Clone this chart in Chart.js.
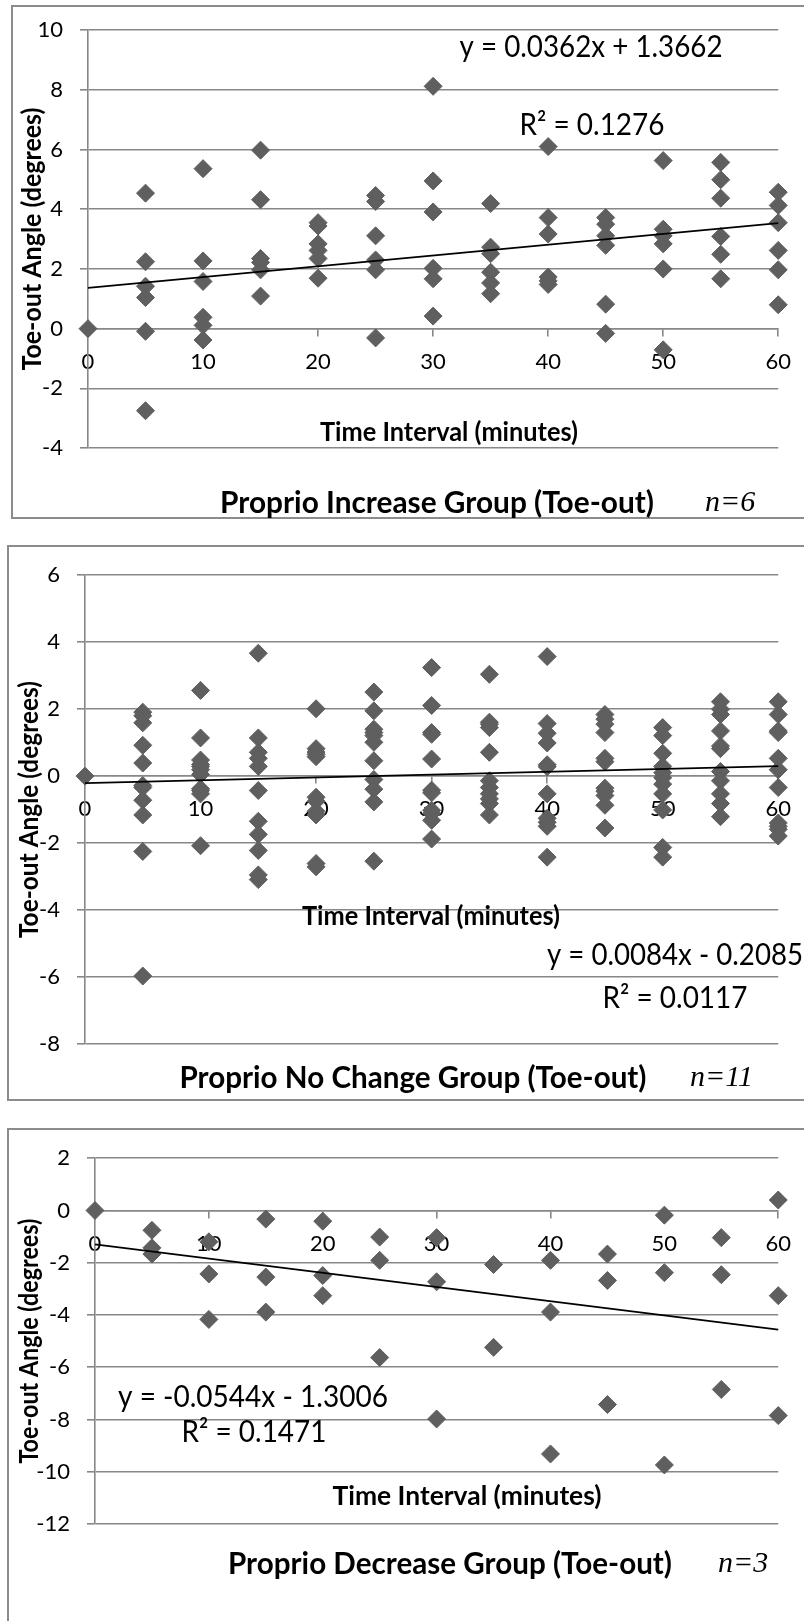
<!DOCTYPE html>
<html>
<head>
<meta charset="utf-8">
<script src="https://cdn.jsdelivr.net/npm/chart.js@4.4.1/dist/chart.umd.min.js"></script>
<style>
  html, body { margin: 0; padding: 0; background: #fff; width: 804px; height: 1621px; overflow: hidden; }
  .frame { position: absolute; border: 2px solid #8c8c8c; box-sizing: border-box; }
  canvas { position: absolute; left: 0; }
</style>
</head>
<body>
<div class="frame" style="left:11px; top:5px; width:830px; height:514px;"></div>
<div class="frame" style="left:7px; top:545px; width:830px; height:556px;"></div>
<div class="frame" style="left:7px; top:1128px; width:830px; height:520px;"></div>
<canvas id="chartIncrease" width="804" height="519" style="top:0px"></canvas>
<canvas id="chartNoChange" width="804" height="556" style="top:545px"></canvas>
<canvas id="chartDecrease" width="804" height="493" style="top:1128px"></canvas>

<script>
// Time points (minutes) shared by all three groups
const timeIntervals = [0, 5, 10, 15, 20, 25, 30, 35, 40, 45, 50, 55, 60];

// Toe-out angle (degrees) per subject, one list per time point
const increaseAngles = [
  [0],
  [4.54, 2.24, 1.42, 1.04, -0.09, -2.75],
  [5.36, 2.27, 1.58, 0.38, 0.11, -0.38],
  [5.98, 4.32, 2.35, 2.22, 1.97, 1.09],
  [3.55, 3.44, 2.84, 2.62, 2.35, 1.69],
  [4.46, 4.26, 3.11, 2.30, 1.97, -0.31],
  [8.12, 4.95, 3.91, 2.02, 1.67, 0.42],
  [4.19, 2.73, 2.51, 1.89, 1.53, 1.17],
  [6.10, 3.72, 3.17, 1.73, 1.60, 1.48],
  [3.72, 3.50, 3.11, 2.79, 0.82, -0.16],
  [5.63, 3.33, 3.11, 2.84, 2.00, -0.71],
  [5.57, 4.99, 4.37, 3.09, 2.49, 1.67],
  [4.57, 4.13, 3.55, 2.62, 1.97, 0.80]
];

const noChangeAngles = [
  [0],
  [1.91, 1.80, 1.59, 0.92, 0.39, -0.28, -0.34, -0.72, -1.16, -2.25, -5.97],
  [2.56, 1.14, 0.48, 0.35, 0.29, 0.19, 0.05, -0.38, -0.43, -0.53, -2.08],
  [3.67, 1.14, 0.71, 0.53, 0.29, -0.43, -1.35, -1.74, -2.22, -2.95, -3.09],
  [2.01, 0.82, 0.72, 0.65, 0.58, -0.63, -0.75, -1.05, -1.16, -2.61, -2.71],
  [2.51, 1.95, 1.40, 1.30, 1.21, 1.01, 0.46, -0.10, -0.39, -0.77, -2.54],
  [3.24, 2.11, 1.30, 1.25, 0.51, -0.42, -0.50, -1.02, -1.11, -1.32, -1.88],
  [3.04, 1.61, 1.55, 1.45, 0.71, -0.14, -0.34, -0.53, -0.68, -0.82, -1.16],
  [3.57, 1.57, 1.28, 0.99, 0.34, 0.28, -0.53, -1.26, -1.38, -1.50, -2.42],
  [1.84, 1.70, 1.55, 1.30, 0.53, 0.43, -0.36, -0.45, -0.58, -0.87, -1.55],
  [1.45, 1.21, 0.68, 0.29, 0.10, -0.05, -0.24, -0.53, -1.01, -2.13, -2.42],
  [2.22, 2.00, 1.84, 1.35, 0.90, 0.82, 0.14, -0.14, -0.53, -0.82, -1.21],
  [2.22, 1.84, 1.35, 1.30, 0.53, 0.19, -0.34, -1.40, -1.50, -1.59, -1.79]
];

const decreaseAngles = [
  [0],
  [-0.76, -1.43, -1.67],
  [-1.20, -2.43, -4.17],
  [-0.33, -2.55, -3.89],
  [-0.41, -2.49, -3.26],
  [-1.02, -1.91, -5.63],
  [-1.04, -2.73, -7.98],
  [-2.07, -5.24],
  [-1.91, -3.89, -9.32],
  [-1.67, -2.68, -7.43],
  [-0.18, -2.38, -9.74],
  [-1.04, -2.46, -6.85],
  [0.40, -3.26, -7.85]
];

// Linear trendlines (slope, intercept, R squared) for the three groups
const fitSlopes = [0.0362, 0.0084, -0.0544];
const fitIntercepts = [1.3662, -0.2085, -1.3006];
const fitRSquared = [0.1276, 0.0117, 0.1471];

// Axis ranges and labels
const yMins = [-4, -8, -12];
const yMaxs = [10, 6, 2];
const yTickStep = 2;
const xTickStep = 10;
const xAxisTitle = 'Time Interval (minutes)';
const yAxisTitle = 'Toe-out Angle (degrees)';
const groupTitles = ['Proprio Increase Group (Toe-out)', 'Proprio No Change Group (Toe-out)', 'Proprio Decrease Group (Toe-out)'];
const groupSizes = [6, 11, 3];

const MARKER = '#5f5f5f';
const GRID = '#878787';
const LATO = 'Lato, "Open Sans", sans-serif';

// Page layout for each panel (canvas-relative pixels)
const layouts = [
  { id: 'chartIncrease', h: 519, area: { l: 88, r: 782, t: 21, b: 448 },
    yTitle: { cx: 33, w: 263 }, xTitle: { cx: 449, cy: 433, w: 258 },
    title: { cx: 437, cy: 503, w: 434, nx: 705 },
    eq: { cx: 591, cy: 47, w: 263 }, r2: { cx: 592, cy: 125, w: 145 } },
  { id: 'chartNoChange', h: 556, area: { l: 85, r: 787, t: 16, b: 499 },
    yTitle: { cx: 30, w: 257 }, xTitle: { cx: 431, cy: 372, w: 258 },
    title: { cx: 413, cy: 533, w: 467, nx: 690 },
    eq: { cx: 675, cy: 410, w: 256 }, r2: { cx: 675, cy: 453, w: 145 } },
  { id: 'chartDecrease', h: 493, area: { l: 95, r: 784, t: 14, b: 396 },
    yTitle: { cx: 30, w: 245 }, xTitle: { cx: 467, cy: 369, w: 269 },
    title: { cx: 450, cy: 436, w: 444, nx: 718 },
    eq: { cx: 253, cy: 269, w: 270 }, r2: { cx: 254, cy: 304, w: 145 } }
];

function toPoints(angles) {
  const pts = [];
  angles.forEach((list, i) => list.forEach(v => pts.push({ x: timeIntervals[i], y: v })));
  return pts;
}

function fmt(v) { return v.toFixed(4); }
function equationText(m, b) {
  return 'y = ' + fmt(m) + 'x ' + (b < 0 ? '- ' : '+ ') + fmt(Math.abs(b));
}

// Draw text centred at (cx, cy), squeezed horizontally to a given width
function drawFitted(ctx, text, cx, cy, font, width, rotate) {
  ctx.save();
  ctx.font = font;
  const w = ctx.measureText(text).width;
  const sx = width ? width / w : 1;
  ctx.translate(cx, cy);
  if (rotate) ctx.rotate(-Math.PI / 2);
  ctx.scale(sx, 1);
  ctx.textAlign = 'center';
  ctx.textBaseline = 'middle';
  ctx.fillStyle = '#000';
  ctx.fillText(text, 0, 0);
  ctx.restore();
}

const annotations = {
  id: 'panelText',
  afterDraw(chart, args, opts) {
    const L = opts.layout;
    const g = opts.group;
    const ctx = chart.ctx;
    const area = chart.chartArea;
    drawFitted(ctx, yAxisTitle, L.yTitle.cx, (area.top + area.bottom) / 2, 'bold 26px ' + LATO, L.yTitle.w, true);
    drawFitted(ctx, xAxisTitle, L.xTitle.cx, L.xTitle.cy, 'bold 26px ' + LATO, L.xTitle.w);
    drawFitted(ctx, groupTitles[g], L.title.cx, L.title.cy, 'bold 31px ' + LATO, L.title.w);
    ctx.save();
    ctx.font = 'italic 30px "Liberation Serif", "Times New Roman", serif';
    ctx.textAlign = 'left';
    ctx.textBaseline = 'middle';
    ctx.fillStyle = '#000';
    ctx.fillText('n=' + groupSizes[g], L.title.nx, L.title.cy);
    ctx.restore();
    drawFitted(ctx, equationText(fitSlopes[g], fitIntercepts[g]), L.eq.cx, L.eq.cy, '30px ' + LATO, L.eq.w);
    drawFitted(ctx, 'R\u00B2 = ' + fmt(fitRSquared[g]), L.r2.cx, L.r2.cy, '30px ' + LATO, L.r2.w);
  }
};

const allAngles = [increaseAngles, noChangeAngles, decreaseAngles];

layouts.forEach((L, g) => {
  const xFirst = timeIntervals[0];
  const xLast = timeIntervals[timeIntervals.length - 1];
  const trend = [
    { x: xFirst, y: fitIntercepts[g] + fitSlopes[g] * xFirst },
    { x: xLast, y: fitIntercepts[g] + fitSlopes[g] * xLast }
  ];
  new Chart(document.getElementById(L.id), {
    type: 'scatter',
    data: {
      datasets: [
        {
          type: 'line',
          data: trend,
          borderColor: '#000',
          borderWidth: 1.8,
          pointRadius: 0,
          fill: false,
          order: 0,
          clip: false
        },
        {
          data: toPoints(allAngles[g]),
          pointStyle: 'rectRot',
          pointRadius: 9,
          pointBackgroundColor: MARKER,
          pointBorderColor: MARKER,
          pointBorderWidth: 1,
          order: 1,
          clip: false
        }
      ]
    },
    options: {
      responsive: false,
      animation: false,
      devicePixelRatio: 1,
      layout: { padding: { left: 0, top: L.area.t, right: 804 - L.area.r, bottom: L.h - L.area.b } },
      plugins: {
        legend: { display: false },
        tooltip: { enabled: false },
        panelText: { layout: L, group: g }
      },
      scales: {
        x: {
          type: 'linear',
          position: { y: 0 },
          min: timeIntervals[0],
          max: timeIntervals[timeIntervals.length - 1],
          grid: { drawOnChartArea: false, drawTicks: true, tickLength: 7, color: GRID, lineWidth: 1.6 },
          border: { display: true, color: GRID, width: 1.6 },
          ticks: { stepSize: xTickStep, padding: 13, color: '#000', font: { family: LATO, size: 22 } }
        },
        y: {
          type: 'linear',
          position: 'left',
          min: yMins[g],
          max: yMaxs[g],
          afterFit: s => { s.width = L.area.l; },
          grid: { color: GRID, lineWidth: 1.6, tickLength: 8 },
          border: { display: true, color: GRID, width: 1.6 },
          ticks: { stepSize: yTickStep, padding: 17, color: '#000', font: { family: LATO, size: 22 } }
        }
      }
    },
    plugins: [annotations]
  });
});
</script>
</body>
</html>
